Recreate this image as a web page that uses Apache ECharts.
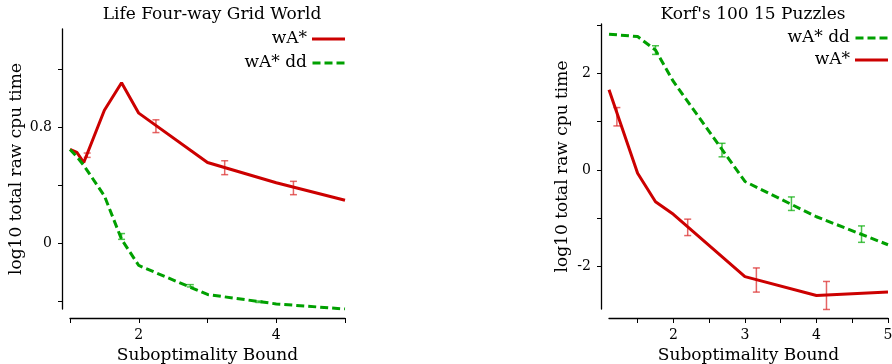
<!DOCTYPE html>
<html>
<head>
<meta charset="utf-8">
<script src="https://cdn.jsdelivr.net/npm/echarts@6/dist/echarts.min.js"></script>
<style>html,body{margin:0;padding:0;background:#fff}#c{width:892px;height:364px}</style>
</head>
<body>
<div id="c"></div>
<script>
// ---- Left chart: Life Four-way Grid World ----
const leftTitle = 'Life Four-way Grid World';
const leftX = [1.0, 1.1, 1.2, 1.5, 1.75, 2, 3, 4, 5];
const leftWA = [0.65, 0.63, 0.56, 0.92, 1.11, 0.90, 0.56, 0.42, 0.30];
const leftDD = [0.65, 0.60, 0.54, 0.33, 0.03, -0.15, -0.35, -0.415, -0.45];
// error bars: [x, centre, half-width]
const leftWAErr = [[1.25, 0.61, 0.015], [2.25, 0.81, 0.044], [3.25, 0.524, 0.048], [4.25, 0.384, 0.046]];
const leftDDErr = [[1.75, 0.05, 0.02], [2.75, -0.29, 0.008], [3.75, -0.40, 0.005]];
const leftYTicks = [-0.4, 0, 0.4, 0.8, 1.2];
const leftYLabels = [0, 0.8];
const leftXTicks = [1, 2, 3, 4, 5];
const leftXLabels = [2, 4];

// ---- Right chart: Korf's 100 15 Puzzles ----
const rightTitle = "Korf's 100 15 Puzzles";
const rightX = [1.1, 1.5, 1.75, 2, 3, 4, 5];
const rightWA = [1.66, -0.07, -0.66, -0.92, -2.21, -2.60, -2.53];
const rightDD = [2.81, 2.76, 2.48, 1.83, -0.24, -0.97, -1.55];
const rightWAErr = [[1.21, 1.10, 0.19], [2.2, -1.19, 0.17], [3.16, -2.28, 0.25], [4.14, -2.60, 0.29]];
const rightDDErr = [[1.75, 2.48, 0.09], [2.68, 0.41, 0.14], [3.65, -0.70, 0.14], [4.63, -1.33, 0.17]];
const rightYTicks = [-2, -1, 0, 1, 2, 3];
const rightYLabels = [-2, 0, 2];
const rightXTicks = [1.5, 2, 2.5, 3, 3.5, 4, 4.5, 5];
const rightXLabels = [2, 3, 4, 5];

const xName = 'Suboptimality Bound';
const yName = 'log10 total raw cpu time';
const nameWA = 'wA*', nameDD = 'wA* dd';

const RED = '#cc0000', GREEN = '#00a000';
const RED_ERR = 'rgba(220,50,50,0.75)', GREEN_ERR = 'rgba(0,170,0,0.7)';
const FONT = 'DejaVu Serif';
const ICON_SOLID = 'path://M0,0H33V3H0Z';
const ICON_DASH = 'path://M0,0H8V3H0Z M12,0H20V3H12Z M24,0H32V3H24Z';

function pairs(xs, ys) { return xs.map((x, i) => [x, ys[i]]); }
function errData(arr) { return arr.map(d => [d[0], d[1] - d[2], d[1] + d[2]]); }

function errSeries(arr, color, gi) {
  return {
    type: 'custom', xAxisIndex: gi, yAxisIndex: gi, silent: true, z: 3,
    data: errData(arr),
    encode: { x: 0, y: [1, 2] },
    renderItem: function (params, api) {
      const x = api.value(0);
      const lo = api.coord([x, api.value(1)]);
      const hi = api.coord([x, api.value(2)]);
      const w = 3.5;
      const st = { stroke: color, lineWidth: 1.5 };
      return {
        type: 'group',
        children: [
          { type: 'line', shape: { x1: lo[0], y1: lo[1], x2: hi[0], y2: hi[1] }, style: st },
          { type: 'line', shape: { x1: lo[0] - w, y1: lo[1], x2: lo[0] + w, y2: lo[1] }, style: st },
          { type: 'line', shape: { x1: hi[0] - w, y1: hi[1], x2: hi[0] + w, y2: hi[1] }, style: st }
        ]
      };
    }
  };
}

const axisLine = { show: true, onZero: false, lineStyle: { color: '#000', width: 1.3 } };
const labelStyle = { color: '#000', fontFamily: FONT, fontSize: 14 };
const nameStyle = { color: '#000', fontFamily: FONT, fontSize: 17 };

function xAxis(gi, min, max, ticks, labels) {
  return {
    type: 'value', gridIndex: gi, min: min, max: max, offset: 9,
    axisLine: axisLine,
    axisTick: { show: true, length: 5, customValues: ticks, lineStyle: { color: '#000' } },
    axisLabel: Object.assign({ customValues: labels, margin: 10 }, labelStyle),
    splitLine: { show: false },
    name: xName, nameLocation: 'middle', nameGap: 23, nameTextStyle: nameStyle
  };
}
function yAxis(gi, min, max, ticks, labels, gap) {
  return {
    type: 'value', gridIndex: gi, min: min, max: max, offset: 8,
    axisLine: axisLine,
    axisTick: { show: true, length: 4, customValues: ticks, lineStyle: { color: '#000' } },
    axisLabel: Object.assign({ customValues: labels, margin: 10 }, labelStyle),
    splitLine: { show: false },
    name: yName, nameLocation: 'middle', nameGap: gap, nameTextStyle: nameStyle
  };
}

const legendText = { color: '#000', fontFamily: FONT, fontSize: 17, lineHeight: 20 };

const chart = echarts.init(document.getElementById('c'));
chart.setOption({
  backgroundColor: '#fff',
  animation: false,
  title: [
    { text: leftTitle, left: 207, top: 1, textAlign: 'center', textStyle: { color: '#000', fontFamily: FONT, fontSize: 17, fontWeight: 'normal' } },
    { text: rightTitle, left: 748, top: 1, textAlign: 'center', textStyle: { color: '#000', fontFamily: FONT, fontSize: 17, fontWeight: 'normal' } }
  ],
  legend: [
    { data: [{ name: nameWA, icon: ICON_SOLID }, { name: nameDD, icon: ICON_DASH }],
      orient: 'vertical', right: 547, top: 29, padding: 0, align: 'right', itemWidth: 33, itemHeight: 3, itemGap: 4,
      textStyle: legendText, selectedMode: false },
    { data: [{ name: nameDD, icon: ICON_DASH }, { name: nameWA, icon: ICON_SOLID }],
      orient: 'vertical', right: 4, top: 28, padding: 0, align: 'right', itemWidth: 33, itemHeight: 3, itemGap: 2,
      textStyle: legendText, selectedMode: false }
  ],
  grid: [
    { left: 70, width: 275, top: 29, height: 280, containLabel: false, outerBoundsMode: 'none' },
    { left: 609, width: 279, top: 24, height: 285, containLabel: false, outerBoundsMode: 'none' }
  ],
  xAxis: [
    xAxis(0, 1, 5, leftXTicks, leftXLabels),
    xAxis(1, 1.1, 5, rightXTicks, rightXLabels)
  ],
  yAxis: [
    yAxis(0, -0.45, 1.48, leftYTicks, leftYLabels, 37),
    yAxis(1, -2.88, 3.02, rightYTicks, rightYLabels, 30)
  ],
  series: [
    { name: nameWA, type: 'line', xAxisIndex: 0, yAxisIndex: 0, data: pairs(leftX, leftWA), symbol: 'none', z: 4,
      lineStyle: { color: RED, width: 3 }, itemStyle: { color: RED } },
    { name: nameDD, type: 'line', xAxisIndex: 0, yAxisIndex: 0, data: pairs(leftX, leftDD), symbol: 'none', z: 5,
      lineStyle: { color: GREEN, width: 3, type: [8, 4] }, itemStyle: { color: GREEN } },
    errSeries(leftWAErr, RED_ERR, 0),
    errSeries(leftDDErr, GREEN_ERR, 0),
    { name: nameWA, type: 'line', xAxisIndex: 1, yAxisIndex: 1, data: pairs(rightX, rightWA), symbol: 'none', z: 4,
      lineStyle: { color: RED, width: 3 }, itemStyle: { color: RED } },
    { name: nameDD, type: 'line', xAxisIndex: 1, yAxisIndex: 1, data: pairs(rightX, rightDD), symbol: 'none', z: 5,
      lineStyle: { color: GREEN, width: 3, type: [8, 4] }, itemStyle: { color: GREEN } },
    errSeries(rightWAErr, RED_ERR, 1),
    errSeries(rightDDErr, GREEN_ERR, 1)
  ]
});
</script>
</body>
</html>
